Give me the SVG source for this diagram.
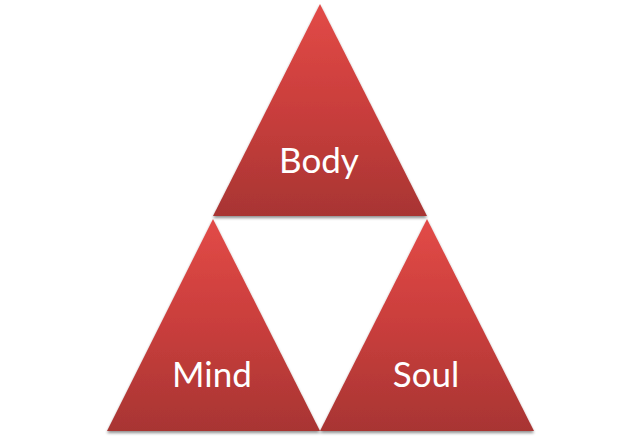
<svg xmlns="http://www.w3.org/2000/svg" width="640" height="439" viewBox="0 0 640 439">
<defs>
<linearGradient id="g" x1="0" y1="0" x2="0" y2="1">
<stop offset="0" stop-color="#e24a47"/>
<stop offset="0.5" stop-color="#c93e3c"/>
<stop offset="1" stop-color="#a83533"/>
</linearGradient>
<filter id="sh" x="-10%" y="-10%" width="120%" height="125%">
<feGaussianBlur in="SourceAlpha" stdDeviation="1.5"/>
<feOffset dx="0" dy="2" result="b"/>
<feComponentTransfer><feFuncA type="linear" slope="0.45"/></feComponentTransfer>
<feMerge><feMergeNode/><feMergeNode in="SourceGraphic"/></feMerge>
</filter>
</defs>
<style>
.tri{fill:url(#g);filter:url(#sh)}
.lbl{font-family:Lato,"Open Sans","Liberation Sans",sans-serif;font-size:35px;fill:#ffffff;text-anchor:middle}
</style>
<rect width="640" height="439" fill="#ffffff"/>
<g id="connectors"></g>
<g id="body">
<polygon class="tri" points="320,4 213,216 427,216"/>
<text class="lbl" x="319" y="173">Body</text>
</g>
<g id="mind">
<polygon class="tri" points="213,219 107,431 320,431"/>
<text class="lbl" x="212" y="387">Mind</text>
</g>
<g id="soul">
<polygon class="tri" points="427,219 320,431 534,431"/>
<text class="lbl" x="426" y="387">Soul</text>
</g>
</svg>
